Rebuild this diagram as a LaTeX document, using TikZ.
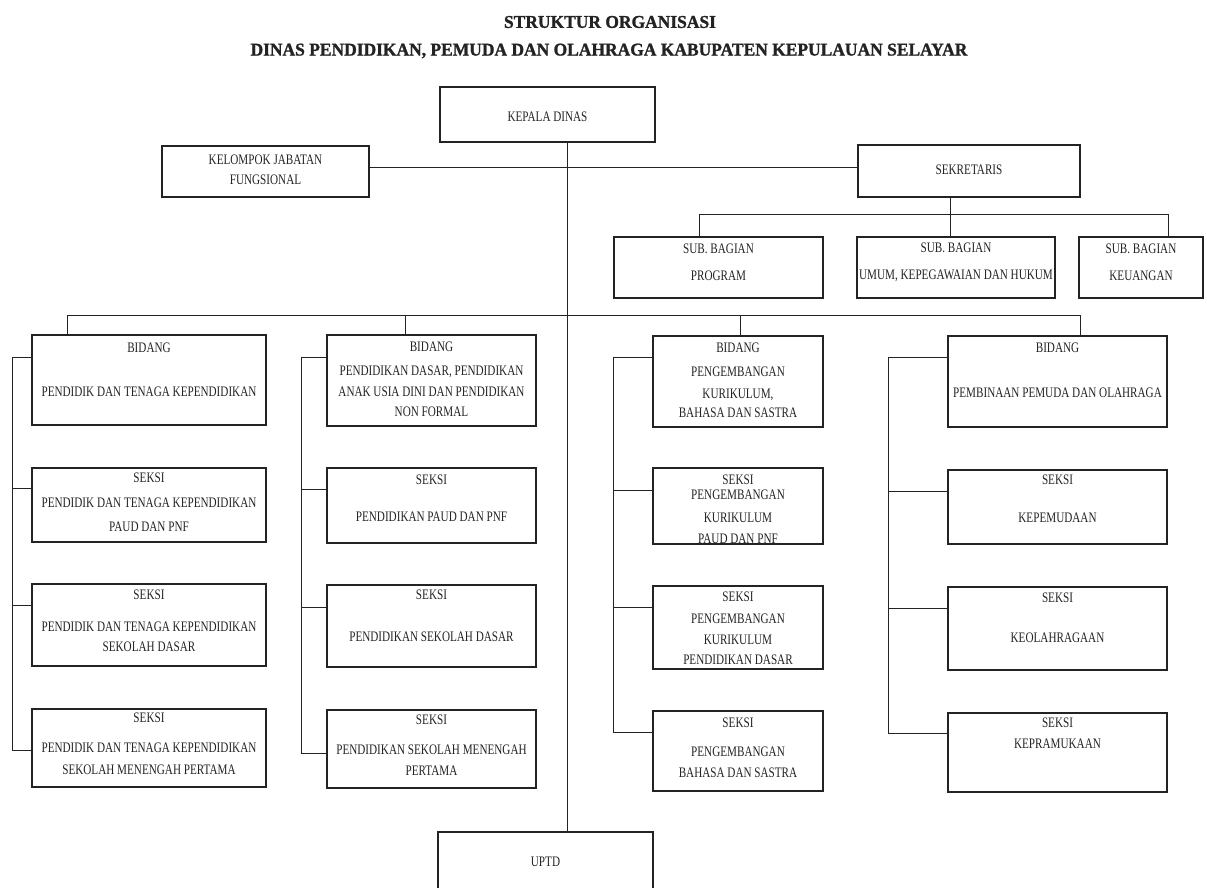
\documentclass[tikz,border=0pt]{standalone}
\usepackage{fontspec}
\setmainfont{Liberation Serif}[FakeStretch=0.77]
\newfontfamily\titlefont{Liberation Serif}[FakeStretch=0.97, FakeBold=1.2]
\definecolor{ink}{RGB}{35,35,35}
\tikzset{
  box/.style={draw=ink, line width=1.1pt, fill=white, inner sep=0pt},
  txt/.style={font=\fontsize{14.5}{20}\selectfont, align=center, inner sep=0pt, text=ink},
  ttl/.style={font=\titlefont\bfseries\fontsize{18}{22}\selectfont, inner sep=0pt, text=ink},
  conn/.style={draw=ink, line width=0.9pt}
}
\begin{document}
\begin{tikzpicture}[x=1pt, y=-1pt]
\useasboundingbox[fill=white] (0,0) rectangle (1207,888);
\clip (0,0) rectangle (1207,888);

% title
\node[ttl] (t1) at (610,22) {STRUKTUR ORGANISASI};
\node[ttl] (t2) at (609,51) {DINAS PENDIDIKAN, PEMUDA DAN OLAHRAGA KABUPATEN KEPULAUAN SELAYAR};

% top level
\node[box, minimum width=215pt, minimum height=55pt] (kd) at (547.5,114.5) {};
\node[txt] (kdt) at (547.5,117) {KEPALA DINAS};
\node[box, minimum width=207pt, minimum height=51pt] (kjf) at (265.5,171.5) {};
\node[txt] (kjft) at (265.5,170) {KELOMPOK JABATAN\\FUNGSIONAL};
\node[box, minimum width=222pt, minimum height=52pt] (sekr) at (969,171) {};
\node[txt] (sekrt) at (969,170) {SEKRETARIS};

% sub bagian
\node[box, minimum width=209pt, minimum height=61pt] (sbp) at (718.5,267.5) {};
\node[txt] (sbpt) at (718.5,262.5) {SUB. BAGIAN\\[7pt]PROGRAM};
\node[box, minimum width=198pt, minimum height=61pt] (sbu) at (956,267.5) {};
\node[txt] (sbut) at (956,262.5) {SUB. BAGIAN\\[7pt]UMUM, KEPEGAWAIAN DAN HUKUM};
\node[box, minimum width=124pt, minimum height=61pt] (sbk) at (1141,267.5) {};
\node[txt] (sbkt) at (1141,262.5) {SUB. BAGIAN\\[7pt]KEUANGAN};

% column 1
\node[box, minimum width=234pt, minimum height=90pt] (b1) at (149,380) {};
\node[txt] (b1t) at (149,370) {BIDANG\\[24pt]PENDIDIK DAN TENAGA KEPENDIDIKAN};
\node[box, minimum width=234pt, minimum height=74pt] (s11) at (149,505) {};
\node[txt] (s11t) at (149,502.5) {SEKSI\\[5pt]PENDIDIK DAN TENAGA KEPENDIDIKAN\\[4pt]PAUD DAN PNF};
\node[box, minimum width=234pt, minimum height=82pt] (s12) at (149,625) {};
\node[txt] (s12t) at (149,621) {SEKSI\\[12pt]PENDIDIK DAN TENAGA KEPENDIDIKAN\\SEKOLAH DASAR};
\node[box, minimum width=234pt, minimum height=78pt] (s13) at (149,748) {};
\node[txt] (s13t) at (149,744) {SEKSI\\[10pt]PENDIDIK DAN TENAGA KEPENDIDIKAN\\[2pt]SEKOLAH MENENGAH PERTAMA};

% column 2
\node[box, minimum width=209pt, minimum height=91pt] (b2) at (431.5,380.5) {};
\node[txt] (b2t) at (431.5,379.5) {BIDANG\\[4pt]PENDIDIKAN DASAR, PENDIDIKAN\\[1pt]ANAK USIA DINI DAN PENDIDIKAN\\NON FORMAL};
\node[box, minimum width=209pt, minimum height=75pt] (s21) at (431.5,505.5) {};
\node[txt] (s21t) at (431.5,498.5) {SEKSI\\[17pt]PENDIDIKAN PAUD DAN PNF};
\node[box, minimum width=209pt, minimum height=82pt] (s22) at (431.5,626) {};
\node[txt] (s22t) at (431.5,616) {SEKSI\\[22pt]PENDIDIKAN SEKOLAH DASAR};
\node[box, minimum width=209pt, minimum height=78pt] (s23) at (431.5,749) {};
\node[txt] (s23t) at (431.5,745.5) {SEKSI\\[10pt]PENDIDIKAN SEKOLAH MENENGAH\\[1pt]PERTAMA};

% column 3
\node[box, minimum width=170pt, minimum height=91pt] (b3) at (738,381.5) {};
\node[txt] (b3t) at (738,380.5) {BIDANG\\[4pt]PENGEMBANGAN\\[2pt]KURIKULUM,\\[-1pt]BAHASA DAN SASTRA};
\node[box, minimum width=170pt, minimum height=76pt] (s31) at (738,506) {};
\node[txt] (s31t) at (738,509.5) {SEKSI\\[-5pt]PENGEMBANGAN\\[3pt]KURIKULUM\\[1pt]PAUD DAN PNF};
\node[box, minimum width=170pt, minimum height=83pt] (s32) at (738,627.5) {};
\node[txt] (s32t) at (738,628.5) {SEKSI\\[2pt]PENGEMBANGAN\\[1pt]KURIKULUM\\PENDIDIKAN DASAR};
\node[box, minimum width=170pt, minimum height=80pt] (s33) at (738,751) {};
\node[txt] (s33t) at (738,748) {SEKSI\\[9pt]PENGEMBANGAN\\[1pt]BAHASA DAN SASTRA};

% column 4
\node[box, minimum width=219pt, minimum height=91pt] (b4) at (1057.5,381.5) {};
\node[txt] (b4t) at (1057.5,370.5) {BIDANG\\[25pt]PEMBINAAN PEMUDA DAN OLAHRAGA};
\node[box, minimum width=219pt, minimum height=74pt] (s41) at (1057.5,507) {};
\node[txt] (s41t) at (1057.5,499) {SEKSI\\[18pt]KEPEMUDAAN};
\node[box, minimum width=219pt, minimum height=83pt] (s42) at (1057.5,628.5) {};
\node[txt] (s42t) at (1057.5,618) {SEKSI\\[20pt]KEOLAHRAGAAN};
\node[box, minimum width=219pt, minimum height=79pt] (s43) at (1057.5,752.5) {};
\node[txt] (s43t) at (1057.5,733.5) {SEKSI\\[1pt]KEPRAMUKAAN};

% UPTD
\node[box, minimum width=215pt, minimum height=60pt] (uptd) at (545.5,862) {};
\node[txt] (uptdt) at (545.5,862) {UPTD};

% connectors
\draw[conn] (kd.south -| 567,0) -- (uptd.north -| 567,0);
\draw[conn] (kjf.east |- 0,167) -- (sekr.west |- 0,167);
\draw[conn] (sekr.south -| 950,0) -- (sbu.north -| 950,0);
\draw[conn] (sbp.north -| 699,0) -- (699,214) -- (1168,214) -- (sbk.north -| 1168,0);
\draw[conn] (b1.north -| 67,0) -- (67,315) -- (1080,315) -- (b4.north -| 1080,0);
\draw[conn] (405,315) -- (b2.north -| 405,0);
\draw[conn] (740,315) -- (b3.north -| 740,0);

% column spines
\draw[conn] (b1.west |- 0,357) -- (12,357) -- (12,750) -- (s13.west |- 0,750);
\draw[conn] (12,488) -- (s11.west |- 0,488);
\draw[conn] (12,605) -- (s12.west |- 0,605);

\draw[conn] (b2.west |- 0,357) -- (301,357) -- (301,753) -- (s23.west |- 0,753);
\draw[conn] (301,489) -- (s21.west |- 0,489);
\draw[conn] (301,607) -- (s22.west |- 0,607);

\draw[conn] (b3.west |- 0,357) -- (613,357) -- (613,732) -- (s33.west |- 0,732);
\draw[conn] (613,490) -- (s31.west |- 0,490);
\draw[conn] (613,607) -- (s32.west |- 0,607);

\draw[conn] (b4.west |- 0,357) -- (888,357) -- (888,733) -- (s43.west |- 0,733);
\draw[conn] (888,491) -- (s41.west |- 0,491);
\draw[conn] (888,608) -- (s42.west |- 0,608);
\end{tikzpicture}
\end{document}
